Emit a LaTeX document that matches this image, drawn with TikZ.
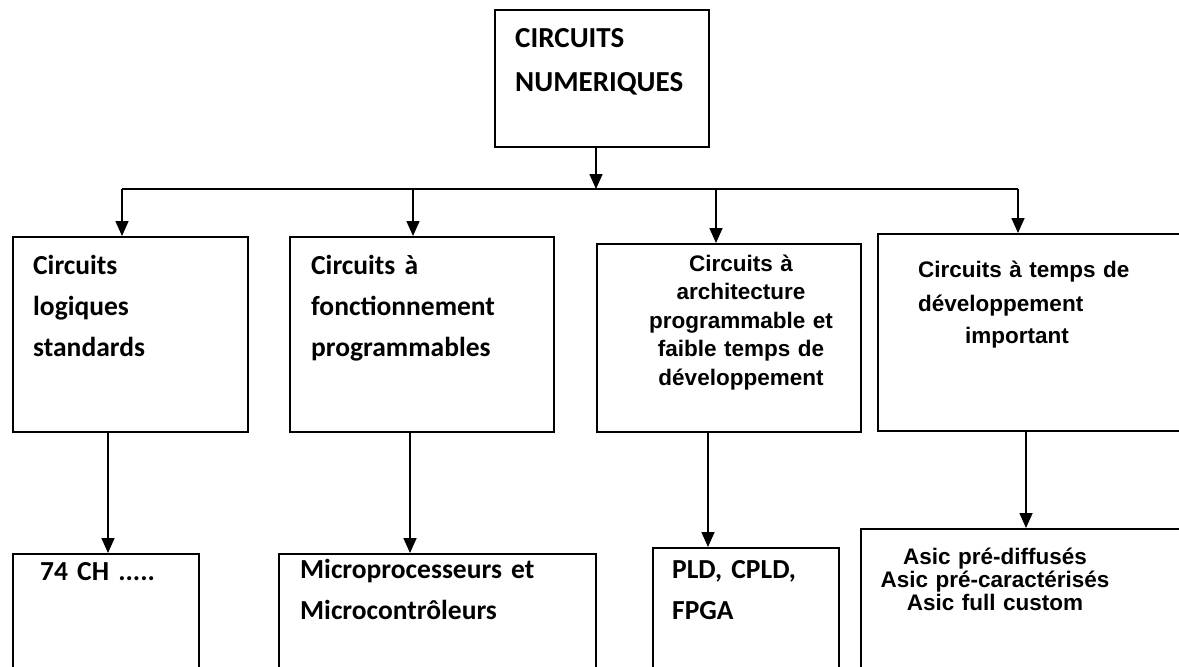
\documentclass[tikz,border=0pt]{standalone}
\usepackage{fontspec}
\usetikzlibrary{arrows.meta,calc}
\newfontfamily\calfont{Carlito}
\newfontfamily\arifont{Liberation Sans}
\begin{document}
\begin{tikzpicture}[x=1pt,y=-1pt,
  box/.style={draw,line width=1.6pt,rectangle,inner sep=0pt,anchor=north west},
  arr/.style={line width=1.6pt,-{Triangle[width=13pt,length=15pt]}},
  bar/.style={line width=1.6pt},
  cal/.style={inner sep=0pt,font=\calfont\bfseries\fontsize{27.5}{41}\selectfont},
  ari/.style={inner sep=0pt,font=\arifont\bfseries\fontsize{22.5}{28.5}\selectfont},
]
\useasboundingbox (0,0) rectangle (1179,667);
\clip (0,0) rectangle (1179,667);

% top box
\node[box,minimum width=214pt,minimum height=137pt] (top) at (494,9) {};
\node[cal,font=\calfont\bfseries\fontsize{29}{44}\selectfont,anchor=base west,text width=190pt,align=left]
  (toptxt) at (515,47) {CIRCUITS\\NUMERIQUES};

% second level boxes
\node[box,minimum width=235pt,minimum height=195pt] (b1) at (12,236) {};
\node[box,minimum width=264pt,minimum height=195pt] (b2) at (289,236) {};
\node[box,minimum width=264pt,minimum height=188pt] (b3) at (596,243) {};
\node[box,minimum width=320pt,minimum height=197pt] (b4) at (877,233) {};

\node[cal,anchor=base west,text width=200pt,align=left] (t1) at (33,274)
  {Circuits\\logiques\\standards};
\node[cal,anchor=base west,text width=240pt,align=left] (t2) at (311,274)
  {Circuits à\\fonctionnement\\programmables};
\node[ari,anchor=base,text width=250pt,align=center] (t3) at (741,271)
  {Circuits à\\architecture\\programmable et\\faible temps de\\développement};
\node[ari,anchor=base west,text width=290pt,align=left] (t4) at (918,277)
  {Circuits à temps de\\[6pt]développement\\[3.5pt]\hspace*{47pt}important};

% third level boxes
\node[box,minimum width=186pt,minimum height=140pt] (c1) at (12,553) {};
\node[box,minimum width=317pt,minimum height=140pt] (c2) at (278,553) {};
\node[box,minimum width=186pt,minimum height=150pt] (c3) at (652,547) {};
\node[box,minimum width=330pt,minimum height=170pt] (c4) at (860,528) {};

\node[cal,anchor=base west,text width=150pt,align=left] (u1) at (40,580) {74 CH .....};
\node[cal,anchor=base west,text width=280pt,align=left] (u2) at (300,578)
  {Microprocesseurs et\\Microcontrôleurs};
\node[cal,anchor=base west,text width=150pt,align=left] (u3) at (672,578)
  {PLD, CPLD,\\FPGA};
\node[ari,font=\arifont\bfseries\fontsize{22.5}{23}\selectfont,anchor=base,text width=300pt,align=center]
  (u4) at (995,564) {Asic pré-diffusés\\Asic pré-caractérisés\\Asic full custom};

% distribution bar
\coordinate (j) at (596,189);
\coordinate (k1) at (122,189);
\coordinate (k2) at (413,189);
\coordinate (k3) at (716,189);
\coordinate (k4) at (1018,189);
\draw[bar] (k1) -- (k4);
\draw[arr] (top.south -| j) -- (j);
\draw[arr] (k1) -- (k1 |- b1.north);
\draw[arr] (k2) -- (k2 |- b2.north);
\draw[arr] (k3) -- (k3 |- b3.north);
\draw[arr] (k4) -- (k4 |- b4.north);

% links to the families
\coordinate (m1) at (108,0);
\coordinate (m2) at (410,0);
\coordinate (m3) at (708,0);
\coordinate (m4) at (1026,0);
\draw[arr] (b1.south -| m1) -- (m1 |- c1.north);
\draw[arr] (b2.south -| m2) -- (m2 |- c2.north);
\draw[arr] (b3.south -| m3) -- (m3 |- c3.north);
\draw[arr] (b4.south -| m4) -- (m4 |- c4.north);
\end{tikzpicture}
\end{document}
